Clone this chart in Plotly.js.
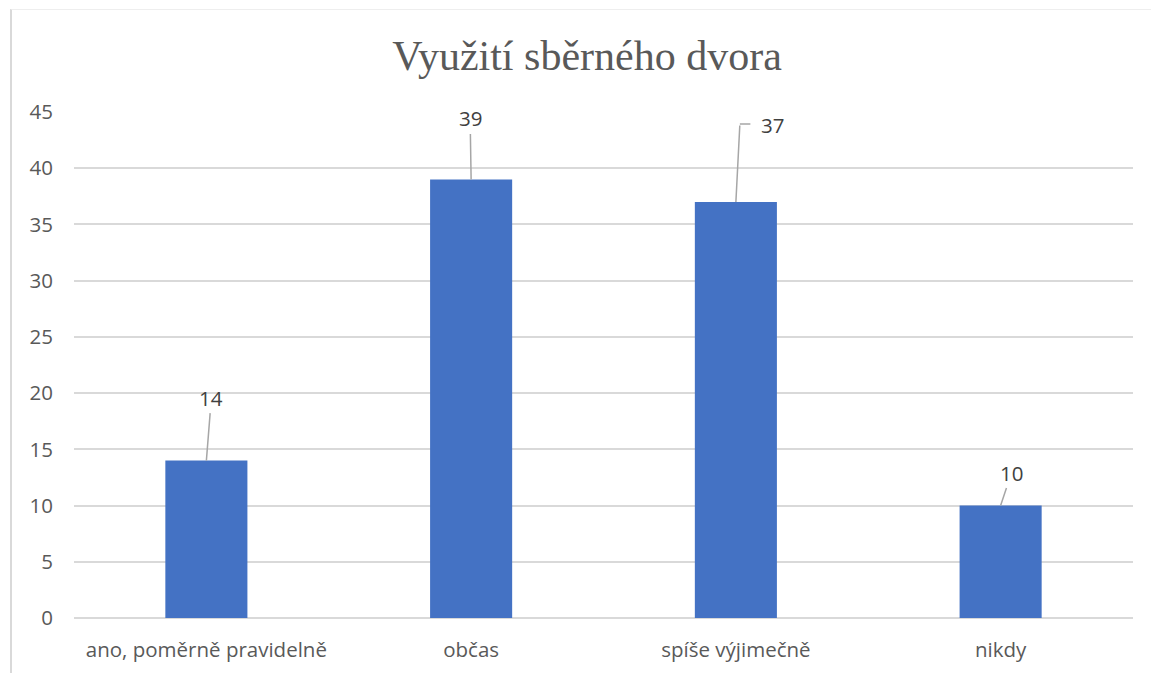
<!DOCTYPE html>
<html>
<head>
<meta charset="utf-8">
<script src="https://cdn.plot.ly/plotly-3.0.1.min.js"></script>
<style>
  html, body { margin: 0; padding: 0; background: #fff; }
  #wrap { position: relative; width: 1151px; height: 673px; overflow: hidden; }
  #chart { position: absolute; left: 0; top: 0; width: 1151px; height: 673px; }
  #frame { position: absolute; left: 10px; top: 9px; width: 1200px; height: 700px;
           border-left: 2px solid #d9d9d9; border-top: 1px solid #eeeeee; pointer-events: none; }
</style>
</head>
<body>
<div id="wrap">
  <div id="chart"></div>
  <div id="frame"></div>
</div>
<script>
const categories = ["ano, poměrně pravidelně", "občas", "spíše výjimečně", "nikdy"];
const values = [14, 39, 37, 10];
const yTicks = [0, 5, 10, 15, 20, 25, 30, 35, 40, 45];
const chartTitle = "Využití sběrného dvora";

// label offsets (pixels) for the leader-line data labels
const labelOffsets = [[5, -63], [-1, -61], [37, -77], [11, -33]];
const elbowLabel = [false, false, true, false];

const textFont = { family: "Open Sans, Noto Sans, sans-serif", size: 20.5, color: "#595959" };
const labelFont = { family: textFont.family, size: 20.5, color: "#404040" };
const leader = { arrowhead: 0, arrowwidth: 1.5, arrowcolor: "#a6a6a6", standoff: 0 };

const trace = {
  type: "bar",
  x: categories,
  y: values,
  marker: { color: "#4472C4" },
  hoverinfo: "x+y"
};

const annotations = [];
categories.forEach((c, i) => {
  const [dx, dy] = labelOffsets[i];
  if (!elbowLabel[i]) {
    annotations.push(Object.assign({
      x: c, y: values[i], xref: "x", yref: "y",
      text: String(values[i]), showarrow: true,
      ax: dx, ay: dy, font: labelFont
    }, leader));
  } else {
    // label text
    annotations.push({
      x: c, y: values[i], xref: "x", yref: "y",
      text: String(values[i]), showarrow: false,
      xshift: dx, yshift: -dy, font: labelFont
    });
    // vertical part of the leader
    annotations.push(Object.assign({
      x: c, y: values[i], xref: "x", yref: "y",
      text: "", showarrow: true, ax: 4, ay: dy - 1
    }, leader));
    // horizontal stub of the leader
    annotations.push(Object.assign({
      x: c, y: values[i], xref: "x", yref: "y",
      text: "", showarrow: true, xshift: 4, yshift: -(dy - 1), ax: 12, ay: 0
    }, leader));
  }
});

const layout = {
  width: 1151, height: 673,
  margin: { l: 74, r: 18, t: 112, b: 55 },
  paper_bgcolor: "#ffffff", plot_bgcolor: "#ffffff",
  title: {
    text: chartTitle,
    font: { family: "Liberation Serif, Times New Roman, serif", size: 42, color: "#595959" },
    x: 0.51, xanchor: "center", y: 0.918, yanchor: "middle"
  },
  bargap: 0.69,
  showlegend: false,
  xaxis: {
    type: "category",
    tickfont: textFont,
    showline: false, zeroline: false, showgrid: false,
    ticks: "", ticklen: 0, ticklabelstandoff: 17
  },
  yaxis: {
    range: [0, 45],
    tickvals: yTicks,
    ticktext: yTicks.map(String),
    tickfont: textFont,
    showgrid: true, gridcolor: "#d9d9d9", gridwidth: 1.5,
    zeroline: true, zerolinecolor: "#d9d9d9", zerolinewidth: 1.5,
    showline: false, ticks: "", ticklabelstandoff: 20
  },
  annotations: annotations
};

Plotly.newPlot("chart", [trace], layout, { displayModeBar: false, staticPlot: false });
</script>
</body>
</html>
